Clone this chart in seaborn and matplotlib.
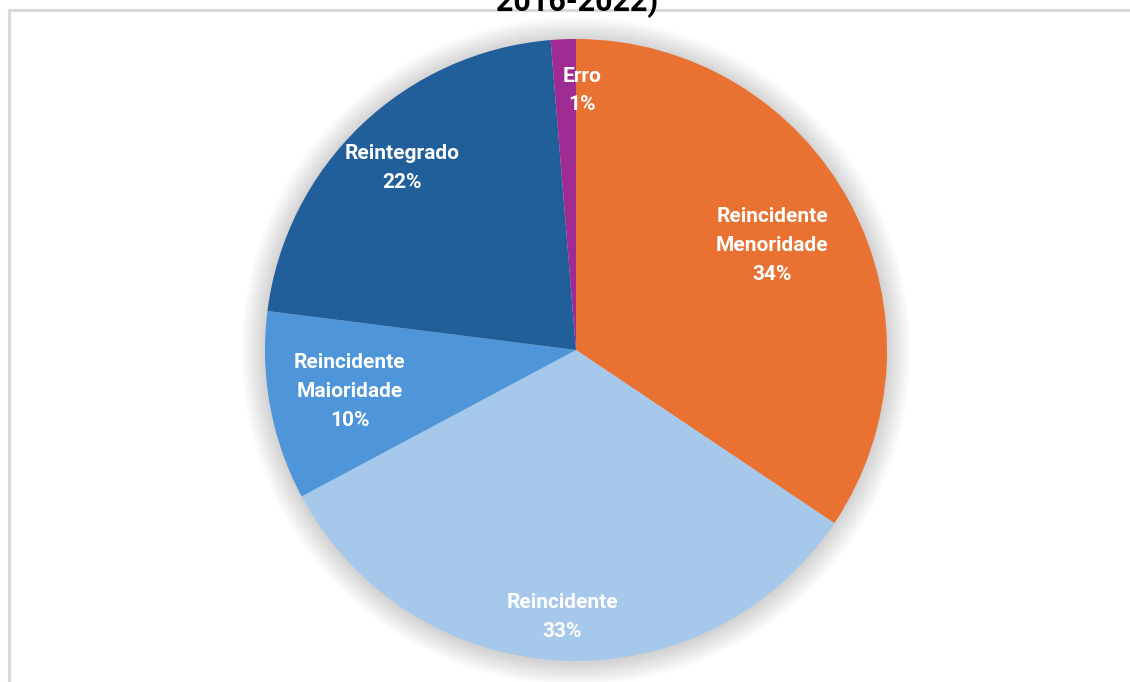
import numpy as np
import matplotlib
matplotlib.use("Agg")
import matplotlib.pyplot as plt
import seaborn as sns
from matplotlib.patches import Circle
from matplotlib.lines import Line2D

# Data
categories = ["Reincidente\nMenoridade", "Reincidente", "Reincidente\nMaioridade", "Reintegrado", "Erro"]
shares = [34.4, 32.8, 9.8, 21.7, 1.3]
pct_labels = ["34%", "33%", "10%", "22%", "1%"]
colors = ["#E97132", "#A6C8EA", "#4E95D9", "#215F9A", "#A02B93"]
label_radius = [0.715, 0.86, 0.74, 0.81, 0.835]
label_shift_deg = [0, 0, 0, 0, -3.6]
title_tail = "2016-2022)"

sns.set_theme(style="white")
plt.rcParams["font.family"] = ["Roboto", "DejaVu Sans"]
palette = sns.color_palette(colors)

fig = plt.figure(figsize=(11.3, 6.82), dpi=100)
fig.patch.set_facecolor("white")

# chart frame (only top and left edges are visible in the crop)
fig.add_artist(Line2D([9 / 1130, 1.0], [1 - 10 / 682, 1 - 10 / 682], color="#D9D9D9", lw=2.2))
fig.add_artist(Line2D([9 / 1130, 9 / 1130], [0.0, 1 - 10 / 682], color="#D9D9D9", lw=2.2))

fig.text(577 / 1130, 1 - 11 / 682, title_tail, ha="center", va="baseline",
         fontsize=22, fontweight="bold", color="black")

ax = fig.add_axes([265 / 1130, 21 / 682, 622 / 1130, 622 / 682])

# soft shadow around the pie
for i in range(22):
    r = 1.0 + 0.0035 * (i + 1)
    ax.add_patch(Circle((0, -0.004), r, color="black", alpha=0.008, lw=0, zorder=0, clip_on=False))

wedges, _ = ax.pie(shares, colors=palette, startangle=90, counterclock=False,
                   wedgeprops=dict(linewidth=0))
for w in wedges:
    w.set_zorder(2)

for w, cat, pct, rf, sh in zip(wedges, categories, pct_labels, label_radius, label_shift_deg):
    mid = np.deg2rad((w.theta1 + w.theta2) / 2 + sh)
    ax.text(rf * np.cos(mid), rf * np.sin(mid), f"{cat}\n{pct}", ha="center", va="center",
            color="white", fontsize=15, fontweight="bold", linespacing=1.65, zorder=5)

ax.set_xlim(-1, 1)
ax.set_ylim(-1, 1)
ax.set_aspect("equal")
ax.axis("off")

fig.savefig("out.png", dpi=100, facecolor="white")
